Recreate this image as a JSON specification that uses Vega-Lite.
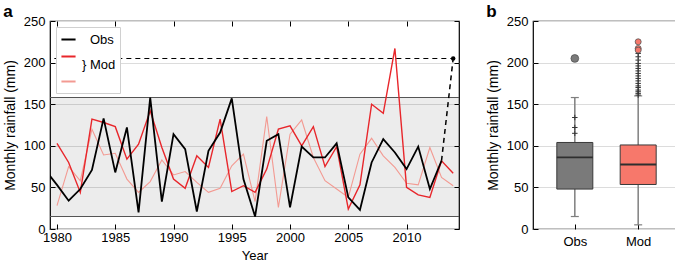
{
  "$schema": "https://vega.github.io/schema/vega-lite/v6.json",
  "padding": {"left": 2, "top": 2, "right": 0, "bottom": 0},
  "background": "white",
  "config": {
    "font": "Liberation Sans",
    "view": {"stroke": "#000", "strokeWidth": 1.2},
    "axis": {"domain": false, "labelFontSize": 13, "titleFontSize": 14, "titleFontWeight": "normal", "labelColor": "#000", "titleColor": "#000", "tickColor": "#000", "tickSize": -5, "labelPadding": 10, "grid": false},
    "title": {"fontSize": 17, "fontWeight": "bold", "anchor": "start", "frame": "bounds", "offset": -6, "color": "#000"}
  },
  "datasets": {
    "ts": [
      {"year": 1979, "value": 71, "series": "Obs"}, {"year": 1980, "value": 53, "series": "Obs"}, {"year": 1981, "value": 34, "series": "Obs"}, {"year": 1982, "value": 48, "series": "Obs"}, {"year": 1983, "value": 71, "series": "Obs"}, {"year": 1984, "value": 133, "series": "Obs"}, {"year": 1985, "value": 68, "series": "Obs"}, {"year": 1986, "value": 122, "series": "Obs"}, {"year": 1987, "value": 20, "series": "Obs"}, {"year": 1988, "value": 158, "series": "Obs"}, {"year": 1989, "value": 33, "series": "Obs"}, {"year": 1990, "value": 114, "series": "Obs"}, {"year": 1991, "value": 96, "series": "Obs"}, {"year": 1992, "value": 21, "series": "Obs"}, {"year": 1993, "value": 94, "series": "Obs"}, {"year": 1994, "value": 116, "series": "Obs"}, {"year": 1995, "value": 157, "series": "Obs"}, {"year": 1996, "value": 60, "series": "Obs"}, {"year": 1997, "value": 15, "series": "Obs"}, {"year": 1998, "value": 106, "series": "Obs"}, {"year": 1999, "value": 114, "series": "Obs"}, {"year": 2000, "value": 26, "series": "Obs"}, {"year": 2001, "value": 99, "series": "Obs"}, {"year": 2002, "value": 86, "series": "Obs"}, {"year": 2003, "value": 86, "series": "Obs"}, {"year": 2004, "value": 103, "series": "Obs"}, {"year": 2005, "value": 38, "series": "Obs"}, {"year": 2006, "value": 23, "series": "Obs"}, {"year": 2007, "value": 80, "series": "Obs"}, {"year": 2008, "value": 108, "series": "Obs"}, {"year": 2009, "value": 92, "series": "Obs"}, {"year": 2010, "value": 72, "series": "Obs"}, {"year": 2011, "value": 99, "series": "Obs"}, {"year": 2012, "value": 48, "series": "Obs"}, {"year": 2013, "value": 82, "series": "Obs"},
      {"year": 1980, "value": 103, "series": "Mod"}, {"year": 1981, "value": 80, "series": "Mod"}, {"year": 1982, "value": 44, "series": "Mod"}, {"year": 1983, "value": 132, "series": "Mod"}, {"year": 1984, "value": 128, "series": "Mod"}, {"year": 1985, "value": 123, "series": "Mod"}, {"year": 1986, "value": 84, "series": "Mod"}, {"year": 1987, "value": 102, "series": "Mod"}, {"year": 1988, "value": 142, "series": "Mod"}, {"year": 1989, "value": 98, "series": "Mod"}, {"year": 1990, "value": 60, "series": "Mod"}, {"year": 1991, "value": 49, "series": "Mod"}, {"year": 1992, "value": 88, "series": "Mod"}, {"year": 1993, "value": 74, "series": "Mod"}, {"year": 1994, "value": 132, "series": "Mod"}, {"year": 1995, "value": 45, "series": "Mod"}, {"year": 1996, "value": 52, "series": "Mod"}, {"year": 1997, "value": 44, "series": "Mod"}, {"year": 1998, "value": 72, "series": "Mod"}, {"year": 1999, "value": 120, "series": "Mod"}, {"year": 2000, "value": 124, "series": "Mod"}, {"year": 2001, "value": 100, "series": "Mod"}, {"year": 2002, "value": 123, "series": "Mod"}, {"year": 2003, "value": 75, "series": "Mod"}, {"year": 2004, "value": 99, "series": "Mod"}, {"year": 2005, "value": 24, "series": "Mod"}, {"year": 2006, "value": 53, "series": "Mod"}, {"year": 2007, "value": 150, "series": "Mod"}, {"year": 2008, "value": 139, "series": "Mod"}, {"year": 2009, "value": 217, "series": "Mod"}, {"year": 2010, "value": 50, "series": "Mod"}, {"year": 2011, "value": 41, "series": "Mod"}, {"year": 2012, "value": 38, "series": "Mod"}, {"year": 2013, "value": 82, "series": "Mod"}, {"year": 2014, "value": 67, "series": "Mod"},
      {"year": 1980, "value": 28, "series": "Mod2"}, {"year": 1981, "value": 75, "series": "Mod2"}, {"year": 1982, "value": 58, "series": "Mod2"}, {"year": 1983, "value": 120, "series": "Mod2"}, {"year": 1984, "value": 89, "series": "Mod2"}, {"year": 1985, "value": 91, "series": "Mod2"}, {"year": 1986, "value": 60, "series": "Mod2"}, {"year": 1987, "value": 44, "series": "Mod2"}, {"year": 1988, "value": 57, "series": "Mod2"}, {"year": 1989, "value": 83, "series": "Mod2"}, {"year": 1990, "value": 65, "series": "Mod2"}, {"year": 1991, "value": 69, "series": "Mod2"}, {"year": 1992, "value": 56, "series": "Mod2"}, {"year": 1993, "value": 44, "series": "Mod2"}, {"year": 1994, "value": 49, "series": "Mod2"}, {"year": 1995, "value": 76, "series": "Mod2"}, {"year": 1996, "value": 90, "series": "Mod2"}, {"year": 1997, "value": 33, "series": "Mod2"}, {"year": 1998, "value": 135, "series": "Mod2"}, {"year": 1999, "value": 26, "series": "Mod2"}, {"year": 2000, "value": 114, "series": "Mod2"}, {"year": 2001, "value": 131, "series": "Mod2"}, {"year": 2002, "value": 86, "series": "Mod2"}, {"year": 2003, "value": 58, "series": "Mod2"}, {"year": 2004, "value": 48, "series": "Mod2"}, {"year": 2005, "value": 38, "series": "Mod2"}, {"year": 2006, "value": 90, "series": "Mod2"}, {"year": 2007, "value": 109, "series": "Mod2"}, {"year": 2008, "value": 88, "series": "Mod2"}, {"year": 2009, "value": 74, "series": "Mod2"}, {"year": 2010, "value": 55, "series": "Mod2"}, {"year": 2011, "value": 53, "series": "Mod2"}, {"year": 2012, "value": 98, "series": "Mod2"}, {"year": 2013, "value": 62, "series": "Mod2"}, {"year": 2014, "value": 52, "series": "Mod2"}
    ],
    "dash": [{"year": 2013, "value": 82}, {"year": 2014, "value": 205}],
    "ref": [{"from": 1979, "to": 2014, "value": 205}],
    "box": [
      {"group": "Obs", "lower": 15, "q1": 48, "median": 86, "q3": 104, "upper": 158},
      {"group": "Mod", "lower": 5, "q1": 53.5, "median": 77.5, "q3": 101, "upper": 160}
    ],
    "plus": [
      {"group": "Obs", "value": 134}, {"group": "Obs", "value": 122}, {"group": "Obs", "value": 115},
      {"group": "Mod", "value": 161}, {"group": "Mod", "value": 163}, {"group": "Mod", "value": 165}, {"group": "Mod", "value": 167}, {"group": "Mod", "value": 170}, {"group": "Mod", "value": 172}, {"group": "Mod", "value": 175}, {"group": "Mod", "value": 178}, {"group": "Mod", "value": 181}, {"group": "Mod", "value": 184}, {"group": "Mod", "value": 187}, {"group": "Mod", "value": 190}, {"group": "Mod", "value": 193}, {"group": "Mod", "value": 196}, {"group": "Mod", "value": 199}, {"group": "Mod", "value": 203}, {"group": "Mod", "value": 207}, {"group": "Mod", "value": 211}
    ],
    "out": [
      {"group": "Obs", "value": 205},
      {"group": "Mod", "value": 225}, {"group": "Mod", "value": 217}, {"group": "Mod", "value": 215}
    ]
  },
  "spacing": 24,
  "hconcat": [
    {
      "width": 409,
      "height": 208,
      "title": "a",
      "resolve": {"axis": {"x": "independent", "y": "independent"}},
      "layer": [
        {
          "data": {"name": "ts"},
          "transform": [
            {"filter": "datum.series == 'Obs' && datum.year >= 1980 && datum.year <= 2013"},
            {"aggregate": [{"op": "min", "field": "value", "as": "lo"}, {"op": "max", "field": "value", "as": "hi"}]}
          ],
          "mark": {"type": "rect", "fill": "#000", "fillOpacity": 0.075},
          "encoding": {
            "x": {"value": 0},
            "x2": {"value": "width"},
            "y": {"field": "lo", "type": "quantitative", "scale": {"domain": [0, 250], "nice": false}, "axis": null},
            "y2": {"field": "hi"}
          }
        },
        {
          "data": {"name": "ts"},
          "transform": [
            {"filter": "datum.series == 'Obs' && datum.year >= 1980 && datum.year <= 2013"},
            {"aggregate": [{"op": "min", "field": "value", "as": "lo"}, {"op": "max", "field": "value", "as": "hi"}]},
            {"fold": ["lo", "hi"], "as": ["edge", "level"]}
          ],
          "mark": {"type": "rule", "color": "#555", "strokeWidth": 1.1},
          "encoding": {
            "y": {"field": "level", "type": "quantitative", "scale": {"domain": [0, 250], "nice": false}, "axis": null}
          }
        },
        {
          "data": {"name": "ts"},
          "transform": [{"filter": "datum.series == 'Mod2'"}],
          "mark": {"type": "line", "strokeWidth": 1.1, "clip": true},
          "encoding": {
            "x": {"field": "year", "type": "quantitative", "scale": {"domain": [1979.4, 2014.5], "nice": false, "zero": false}, "axis": null},
            "y": {"field": "value", "type": "quantitative", "scale": {"domain": [0, 250], "nice": false}, "axis": null},
            "color": {"field": "series", "type": "nominal", "scale": {"domain": ["Obs", "Mod", "Mod2"], "range": ["#000000", "#e8262b", "#f39a92"]}}
          }
        },
        {
          "data": {"name": "ts"},
          "transform": [{"filter": "datum.series == 'Mod'"}],
          "mark": {"type": "line", "strokeWidth": 1.4, "clip": true},
          "encoding": {
            "x": {"field": "year", "type": "quantitative", "scale": {"domain": [1979.4, 2014.5], "nice": false, "zero": false}, "axis": null},
            "y": {"field": "value", "type": "quantitative", "scale": {"domain": [0, 250], "nice": false}, "axis": null},
            "color": {"field": "series", "type": "nominal", "scale": {"domain": ["Obs", "Mod", "Mod2"], "range": ["#000000", "#e8262b", "#f39a92"]}}
          }
        },
        {
          "data": {"name": "ts"},
          "transform": [{"filter": "datum.series == 'Obs'"}],
          "mark": {"type": "line", "strokeWidth": 1.8, "clip": true},
          "encoding": {
            "x": {"field": "year", "type": "quantitative", "scale": {"domain": [1979.4, 2014.5], "nice": false, "zero": false},
                  "axis": {"orient": "bottom", "values": [1980, 1985, 1990, 1995, 2000, 2005, 2010], "format": "d", "title": "Year", "titlePadding": 5, "titleFontSize": 13, "labelPadding": 7}},
            "y": {"field": "value", "type": "quantitative", "scale": {"domain": [0, 250], "nice": false},
                  "axis": {"orient": "left", "values": [0, 50, 100, 150, 200, 250], "title": "Monthly rainfall (mm)", "grid": true, "gridColor": "#dcdcdc", "titlePadding": 6}},
            "color": {"field": "series", "type": "nominal", "scale": {"domain": ["Obs", "Mod", "Mod2"], "range": ["#000000", "#e8262b", "#f39a92"]},
                      "legend": {"orient": "top-left", "offset": 6, "title": null, "symbolType": "stroke", "symbolSize": 200, "symbolStrokeWidth": 2, "labelFontSize": 13, "labelOffset": 5, "padding": 4, "rowPadding": 1, "fillColor": "#ffffff", "strokeColor": "#d0d0d0",
                                 "labelExpr": "datum.label == 'Obs' ? 'Obs' : (datum.label == 'Mod' ? '} Mod' : '')",
                                 "encoding": {"labels": {
                                   "dy": {"condition": {"test": "datum.label == 'Mod'", "value": 8}, "value": 0},
                                   "dx": {"condition": {"test": "datum.label == 'Obs'", "value": 8}, "value": 0}
                                 }}}}
          }
        },
        {
          "data": {"name": "ref"},
          "mark": {"type": "rule", "color": "#000", "strokeWidth": 1.1, "strokeDash": [5, 4], "clip": true},
          "encoding": {
            "x": {"field": "from", "type": "quantitative", "scale": {"domain": [1979.4, 2014.5], "nice": false, "zero": false}, "axis": null},
            "x2": {"field": "to"},
            "y": {"field": "value", "type": "quantitative", "scale": {"domain": [0, 250], "nice": false}, "axis": null}
          }
        },
        {
          "data": {"name": "dash"},
          "mark": {"type": "line", "color": "#000", "strokeWidth": 1.5, "strokeDash": [5, 4]},
          "encoding": {
            "x": {"field": "year", "type": "quantitative", "scale": {"domain": [1979.4, 2014.5], "nice": false, "zero": false}, "axis": null},
            "y": {"field": "value", "type": "quantitative", "scale": {"domain": [0, 250], "nice": false}, "axis": null}
          }
        },
        {
          "data": {"name": "dash"},
          "transform": [{"filter": "datum.year == 2014"}],
          "mark": {"type": "point", "filled": true, "color": "#000", "size": 20, "opacity": 1},
          "encoding": {
            "x": {"field": "year", "type": "quantitative", "scale": {"domain": [1979.4, 2014.5], "nice": false, "zero": false},
                  "axis": {"orient": "top", "values": [1980, 1985, 1990, 1995, 2000, 2005, 2010], "labels": false, "title": null}},
            "y": {"field": "value", "type": "quantitative", "scale": {"domain": [0, 250], "nice": false},
                  "axis": {"orient": "right", "values": [0, 50, 100, 150, 200, 250], "labels": false, "title": null}}
          }
        }
      ]
    },
    {
      "width": 147,
      "height": 208,
      "title": "b",
      "resolve": {"axis": {"x": "independent", "y": "independent"}},
      "layer": [
        {
          "data": {"name": "box"},
          "mark": {"type": "rule", "color": "#7f7f7f", "strokeWidth": 1.5},
          "encoding": {
            "x": {"field": "group", "type": "nominal", "scale": {"type": "point", "domain": ["Obs", "Mod"], "padding": 0.66},
                  "axis": {"orient": "bottom", "title": null, "labelAngle": 0, "labelPadding": 11}},
            "y": {"field": "lower", "type": "quantitative", "scale": {"domain": [0, 250], "nice": false},
                  "axis": {"orient": "left", "values": [0, 50, 100, 150, 200, 250], "title": "Monthly rainfall (mm)", "grid": true, "gridColor": "#dcdcdc", "titlePadding": 6}},
            "y2": {"field": "upper"}
          }
        },
        {
          "data": {"name": "box"},
          "transform": [{"fold": ["lower", "upper"], "as": ["end", "level"]}],
          "mark": {"type": "tick", "size": 8, "thickness": 1.2, "color": "#7f7f7f", "opacity": 1},
          "encoding": {
            "x": {"field": "group", "type": "nominal", "scale": {"type": "point", "domain": ["Obs", "Mod"], "padding": 0.66}, "axis": null},
            "y": {"field": "level", "type": "quantitative", "scale": {"domain": [0, 250], "nice": false}, "axis": null}
          }
        },
        {
          "data": {"name": "box"},
          "mark": {"type": "bar", "width": 36, "stroke": "#3a3a3a", "strokeWidth": 1},
          "encoding": {
            "x": {"field": "group", "type": "nominal", "scale": {"type": "point", "domain": ["Obs", "Mod"], "padding": 0.66}, "axis": null},
            "y": {"field": "q1", "type": "quantitative", "scale": {"domain": [0, 250], "nice": false}, "axis": null},
            "y2": {"field": "q3"},
            "fill": {"field": "group", "type": "nominal", "scale": {"domain": ["Obs", "Mod"], "range": ["#7a7a7a", "#f7786b"]}, "legend": null}
          }
        },
        {
          "data": {"name": "box"},
          "mark": {"type": "tick", "size": 36, "thickness": 1.8, "color": "#2e2e2e", "opacity": 1},
          "encoding": {
            "x": {"field": "group", "type": "nominal", "scale": {"type": "point", "domain": ["Obs", "Mod"], "padding": 0.66},
                  "axis": {"orient": "top", "labels": false, "ticks": false, "title": null}},
            "y": {"field": "median", "type": "quantitative", "scale": {"domain": [0, 250], "nice": false},
                  "axis": {"orient": "right", "values": [0, 50, 100, 150, 200, 250], "labels": false, "title": null}}
          }
        },
        {
          "data": {"name": "plus"},
          "mark": {"type": "point", "shape": "M-1,0L1,0M0,-1L0,1", "size": 30, "filled": false, "stroke": "#333", "strokeWidth": 1, "opacity": 1},
          "encoding": {
            "x": {"field": "group", "type": "nominal", "scale": {"type": "point", "domain": ["Obs", "Mod"], "padding": 0.66}, "axis": null},
            "y": {"field": "value", "type": "quantitative", "scale": {"domain": [0, 250], "nice": false}, "axis": null}
          }
        },
        {
          "data": {"name": "out"},
          "mark": {"type": "point", "shape": "circle", "filled": true, "stroke": "#555", "strokeWidth": 0.8, "opacity": 1},
          "encoding": {
            "x": {"field": "group", "type": "nominal", "scale": {"type": "point", "domain": ["Obs", "Mod"], "padding": 0.66}, "axis": null},
            "y": {"field": "value", "type": "quantitative", "scale": {"domain": [0, 250], "nice": false}, "axis": null},
            "fill": {"field": "group", "type": "nominal", "scale": {"domain": ["Obs", "Mod"], "range": ["#7a7a7a", "#f7786b"]}, "legend": null},
            "size": {"field": "group", "type": "nominal", "scale": {"domain": ["Obs", "Mod"], "range": [60, 36]}, "legend": null}
          }
        }
      ]
    }
  ]
}
